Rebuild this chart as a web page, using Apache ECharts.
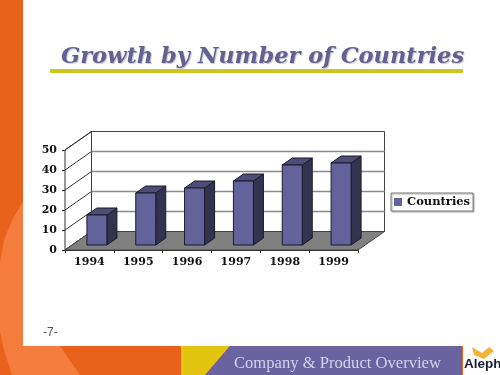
<!DOCTYPE html>
<html>
<head>
<meta charset="utf-8">
<style>
html, body { margin: 0; padding: 0; background: #fff; }
#main { width: 500px; height: 375px; }
</style>
<script src="https://cdn.jsdelivr.net/npm/echarts@6/dist/echarts.min.js"></script>
</head>
<body>
<div id="main"></div>
<script>
// data
var years = ['1994', '1995', '1996', '1997', '1998', '1999'];
var countries = [15, 26, 28.5, 32, 40, 41];
var yTicks = [0, 10, 20, 30, 40, 50];

var titleText = 'Growth by Number of Countries';
var footerText = 'Company & Product Overview';
var pageText = '-7-';
var logoText = 'Aleph';

var myChart = echarts.init(document.getElementById('main'));

var barFace = '#63639b', barSide = '#33334f', barTop = '#4d4d78';
var depthX = 26.5, depthY = -18.5;

// back wall, side wall, floor and grid lines of the fake 3D box
function renderBox(params, api) {
    var cs = params.coordSys;
    var x0 = cs.x, x1 = cs.x + cs.width, yb = cs.y + cs.height, yt = cs.y;
    var kids = [];
    kids.push({ type: 'polygon', shape: { points: [[x0, yb], [x0 + depthX, yb + depthY], [x0 + depthX, yt + depthY], [x0, yt]] },
        style: { fill: '#fff', stroke: '#333', lineWidth: 1 } });
    kids.push({ type: 'rect', shape: { x: x0 + depthX, y: yt + depthY, width: cs.width, height: cs.height },
        style: { fill: '#fff', stroke: '#444', lineWidth: 1 } });
    yTicks.forEach(function (t) {
        var y = api.coord([0, t])[1];
        if (t > 0 && t < 50) {
            kids.push({ type: 'line', shape: { x1: x0 + depthX, y1: y + depthY, x2: x1 + depthX, y2: y + depthY },
                style: { stroke: '#8a8a8a', lineWidth: 1.5 } });
        }
        kids.push({ type: 'line', shape: { x1: x0, y1: y, x2: x0 + depthX, y2: y + depthY },
            style: { stroke: '#333', lineWidth: 1 } });
    });
    kids.push({ type: 'polygon', shape: { points: [[x0, yb], [x1, yb], [x1 + depthX, yb + depthY], [x0 + depthX, yb + depthY]] },
        style: { fill: '#808080', stroke: '#444', lineWidth: 1 } });
    return { type: 'group', children: kids };
}

// one 3D bar: front face, right side, top
function renderBar(params, api) {
    var top = api.coord([api.value(0), api.value(1)]);
    var base = api.coord([api.value(0), 0]);
    var w = 20, sx = 10, sy = -7;
    var left = top[0] - w / 2 + 7.5, right = left + w;
    var ty = top[1] - 5, by = base[1] - 5;
    var ln = { stroke: '#1a1a2a', lineWidth: 1 };
    return { type: 'group', children: [
        { type: 'polygon', shape: { points: [[right, by], [right + sx, by + sy], [right + sx, ty + sy], [right, ty]] },
            style: Object.assign({ fill: barSide }, ln) },
        { type: 'polygon', shape: { points: [[left, ty], [right, ty], [right + sx, ty + sy], [left + sx, ty + sy]] },
            style: Object.assign({ fill: barTop }, ln) },
        { type: 'rect', shape: { x: left, y: ty, width: w, height: by - ty },
            style: Object.assign({ fill: barFace }, ln) }
    ] };
}

var option = {
    animation: false,
    backgroundColor: '#fff',
    title: {
        text: titleText,
        left: 61, top: 46, padding: 0,
        textStyle: {
            fontFamily: 'DejaVu Serif', fontWeight: 'bold', fontStyle: 'italic', fontSize: 22.5,
            color: '#64608f', textShadowColor: '#c4c4d2', textShadowOffsetX: 1, textShadowOffsetY: 1, textShadowBlur: 1
        }
    },
    legend: {
        data: ['Countries'],
        left: 391, top: 193, orient: 'vertical', padding: [3, 3, 3, 3],
        icon: 'rect', itemWidth: 8, itemHeight: 8, itemGap: 0,
        backgroundColor: '#fff', borderColor: '#777', borderWidth: 1,
        shadowColor: '#aaa', shadowOffsetX: 1, shadowOffsetY: 1, shadowBlur: 1,
        textStyle: { fontFamily: 'DejaVu Serif', fontWeight: 'bold', fontSize: 11.5, color: '#111' }
    },
    grid: { left: 65, top: 150, width: 293, height: 100 },
    xAxis: {
        type: 'category', data: years,
        axisLine: { lineStyle: { color: '#222' } },
        axisTick: { show: true, alignWithLabel: false, length: 3, lineStyle: { color: '#222' } },
        axisLabel: { fontFamily: 'DejaVu Serif', fontWeight: 'bold', fontSize: 11, color: '#111', margin: 7 }
    },
    yAxis: {
        type: 'value', min: 0, max: 50, interval: 10,
        axisLine: { show: true, lineStyle: { color: '#222' } },
        axisTick: { show: true, length: 3, lineStyle: { color: '#222' } },
        splitLine: { show: false },
        axisLabel: { fontFamily: 'DejaVu Serif', fontWeight: 'bold', fontSize: 11, color: '#111', margin: 8 }
    },
    series: [
        { name: 'box', type: 'custom', renderItem: renderBox, data: [0], z: 1, silent: true },
        {
            name: 'Countries', type: 'custom', renderItem: renderBar, z: 3,
            itemStyle: { color: barFace },
            encode: { x: 0, y: 1 },
            data: years.map(function (y, i) { return [i, countries[i]]; })
        }
    ],
    // slide template behind the chart
    graphic: [
        { type: 'rect', z: -10, shape: { x: 0, y: 0, width: 500, height: 375 }, style: { fill: '#e8621b' } },
        { type: 'polygon', z: -9, shape: { points: [[24, 200], [12, 220], [4, 240], [0, 262], [0, 332], [4, 350], [12, 375], [80, 375], [60, 346], [24, 346]] },
            style: { fill: '#f47c3c' } },
        { type: 'rect', z: -8, shape: { x: 23, y: 0, width: 477, height: 346 }, style: { fill: '#fff' } },
        { type: 'rect', z: -8, shape: { x: 463, y: 346, width: 37, height: 29 }, style: { fill: '#fff' } },
        { type: 'polygon', z: -7, shape: { points: [[181, 346], [230, 346], [205, 375], [181, 375]] }, style: { fill: '#e3c40e' } },
        { type: 'polygon', z: -7, shape: { points: [[230, 346], [462, 346], [462, 375], [205, 375]] }, style: { fill: '#6b63a0' } },
        { type: 'rect', z: -6, shape: { x: 50, y: 69, width: 413, height: 4, r: 1 }, style: { fill: '#c8c81e' } },
        { type: 'text', z: -6, style: { x: 234, y: 355, text: footerText, fill: '#d5d2ec', font: '16.6px "Liberation Serif"' } },
        { type: 'text', z: -6, style: { x: 43, y: 327, text: pageText, fill: '#50506e', font: '12px "Liberation Sans"' } },
        { type: 'polygon', z: -6, shape: { points: [[472, 347], [482, 353], [489, 347], [494, 351], [484, 359], [474, 355]] }, style: { fill: '#f5b335' } },
        { type: 'text', z: -5, style: { x: 464, y: 357, text: logoText, fill: '#1c1c3a', font: 'bold 13.5px "Liberation Sans"' } }
    ]
};

myChart.setOption(option);
</script>
</body>
</html>
